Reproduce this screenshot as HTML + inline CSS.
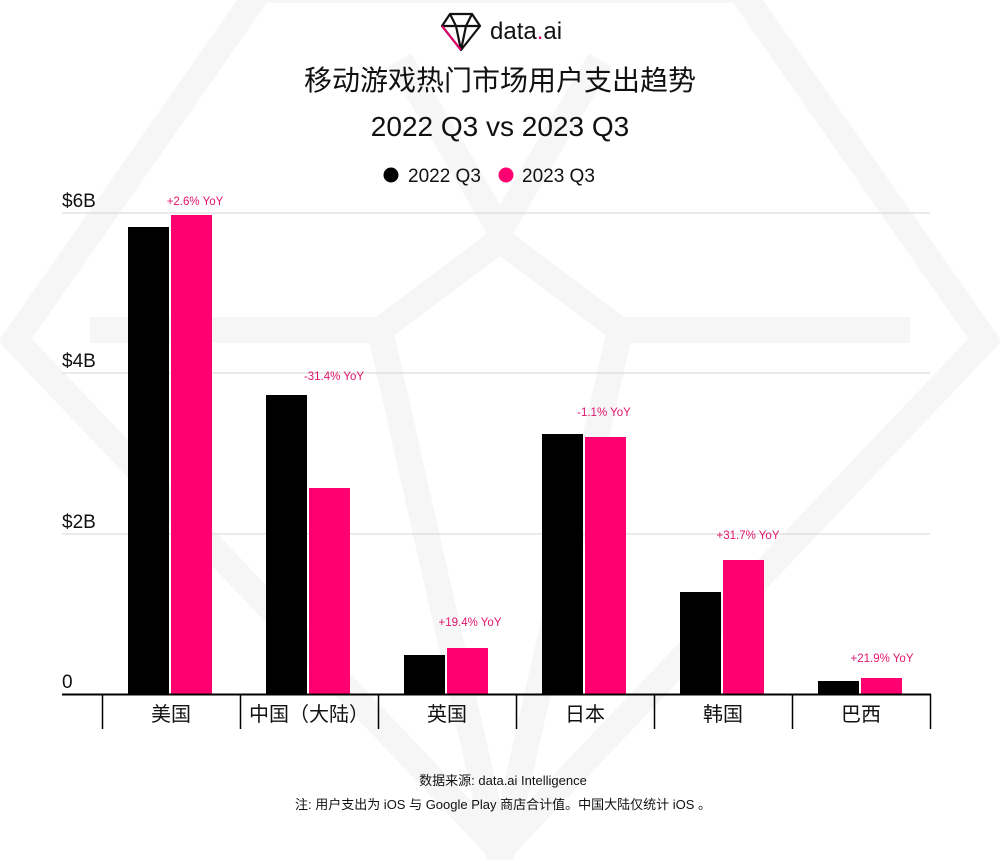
<!DOCTYPE html>
<html><head><meta charset="utf-8"><style>
body{margin:0;background:#fff;}
svg text{font-family:"Liberation Sans","Noto Sans CJK SC",sans-serif;}
</style></head><body>
<svg width="1000" height="860" viewBox="0 0 1000 860" xmlns="http://www.w3.org/2000/svg">
<!-- watermark -->
<g fill="none" stroke="#f6f6f6" stroke-width="26" stroke-linejoin="miter">
<polygon points="260,-10 740,-10 985,340 500,850 15,340"/>
<polyline points="90,330 380,330 500,860 620,330 910,330"/>
<polyline points="400,60 500,230 600,60"/>
<polyline points="380,330 500,240 620,330"/>
</g>
<!-- logo -->
<g transform="translate(442,14)" fill="none" stroke-width="2.2" stroke-linejoin="round">
<polygon points="8,0 30,0 38,12 19,36 0,12" stroke="#111"/>
<polyline points="0,12 38,12" stroke="#111"/>
<polyline points="8,0 14,12 19,36 24,12 30,0" stroke="#111"/>
<polyline points="0,12 19,36" stroke="#e0006a"/>
</g>
<text x="490" y="39" font-size="24" fill="#111">data<tspan fill="#e0006a">.</tspan>ai</text>
<!-- title -->
<text x="500" y="90" font-size="28" text-anchor="middle" fill="#111">移动游戏热门市场用户支出趋势</text>
<text x="500" y="136" font-size="28" text-anchor="middle" fill="#111">2022 Q3 vs 2023 Q3</text>
<!-- legend -->
<circle cx="391" cy="175" r="7.5" fill="#000"/>
<text x="408" y="182" font-size="19" fill="#111">2022 Q3</text>
<circle cx="506" cy="175" r="7.5" fill="#ff0070"/>
<text x="522" y="182" font-size="19" fill="#111">2023 Q3</text>
<!-- grid -->
<g stroke="#d4d4d4" stroke-width="1">
<line x1="62" y1="213" x2="930" y2="213"/>
<line x1="62" y1="373" x2="930" y2="373"/>
<line x1="62" y1="534" x2="930" y2="534"/>
</g>
<g font-size="19" fill="#111">
<text x="62" y="207">$6B</text>
<text x="62" y="367">$4B</text>
<text x="62" y="528">$2B</text>
<text x="62" y="688">0</text>
</g>
<!-- bars -->
<g fill="#000">
<rect x="128" y="227" width="41" height="467"/>
<rect x="266" y="395" width="41" height="299"/>
<rect x="404" y="655" width="41" height="39"/>
<rect x="542" y="434" width="41" height="260"/>
<rect x="680" y="592" width="41" height="102"/>
<rect x="818" y="681" width="41" height="13"/>
</g>
<g fill="#ff0070">
<rect x="171" y="215" width="41" height="479"/>
<rect x="309" y="488" width="41" height="206"/>
<rect x="447" y="648" width="41" height="46"/>
<rect x="585" y="437" width="41" height="257"/>
<rect x="723" y="560" width="41" height="134"/>
<rect x="861" y="678" width="41" height="16"/>
</g>
<g font-size="11.5" fill="#e0156b" text-anchor="middle">
<text x="195" y="205">+2.6% YoY</text>
<text x="334" y="380">-31.4% YoY</text>
<text x="604" y="416">-1.1% YoY</text>
<text x="470" y="626">+19.4% YoY</text>
<text x="748" y="539">+31.7% YoY</text>
<text x="882" y="662">+21.9% YoY</text>
</g>
<!-- axis -->
<line x1="62" y1="694.5" x2="931" y2="694.5" stroke="#000" stroke-width="2"/>
<g stroke="#000" stroke-width="1.5">
<line x1="102.5" y1="694" x2="102.5" y2="729"/>
<line x1="240.5" y1="694" x2="240.5" y2="729"/>
<line x1="378.5" y1="694" x2="378.5" y2="729"/>
<line x1="516.5" y1="694" x2="516.5" y2="729"/>
<line x1="654.5" y1="694" x2="654.5" y2="729"/>
<line x1="792.5" y1="694" x2="792.5" y2="729"/>
<line x1="930.5" y1="694" x2="930.5" y2="729"/>
</g>
<g font-size="20" fill="#111" text-anchor="middle">
<text x="171" y="721">美国</text>
<text x="309" y="721">中国（大陆）</text>
<text x="447" y="721">英国</text>
<text x="585" y="721">日本</text>
<text x="723" y="721">韩国</text>
<text x="861" y="721">巴西</text>
</g>
<g font-size="13" fill="#111" text-anchor="middle">
<text x="503" y="785">数据来源: data.ai Intelligence</text>
<text x="503" y="809">注: 用户支出为 iOS 与 Google Play 商店合计值。中国大陆仅统计 iOS 。</text>
</g>
</svg>
</body></html>
